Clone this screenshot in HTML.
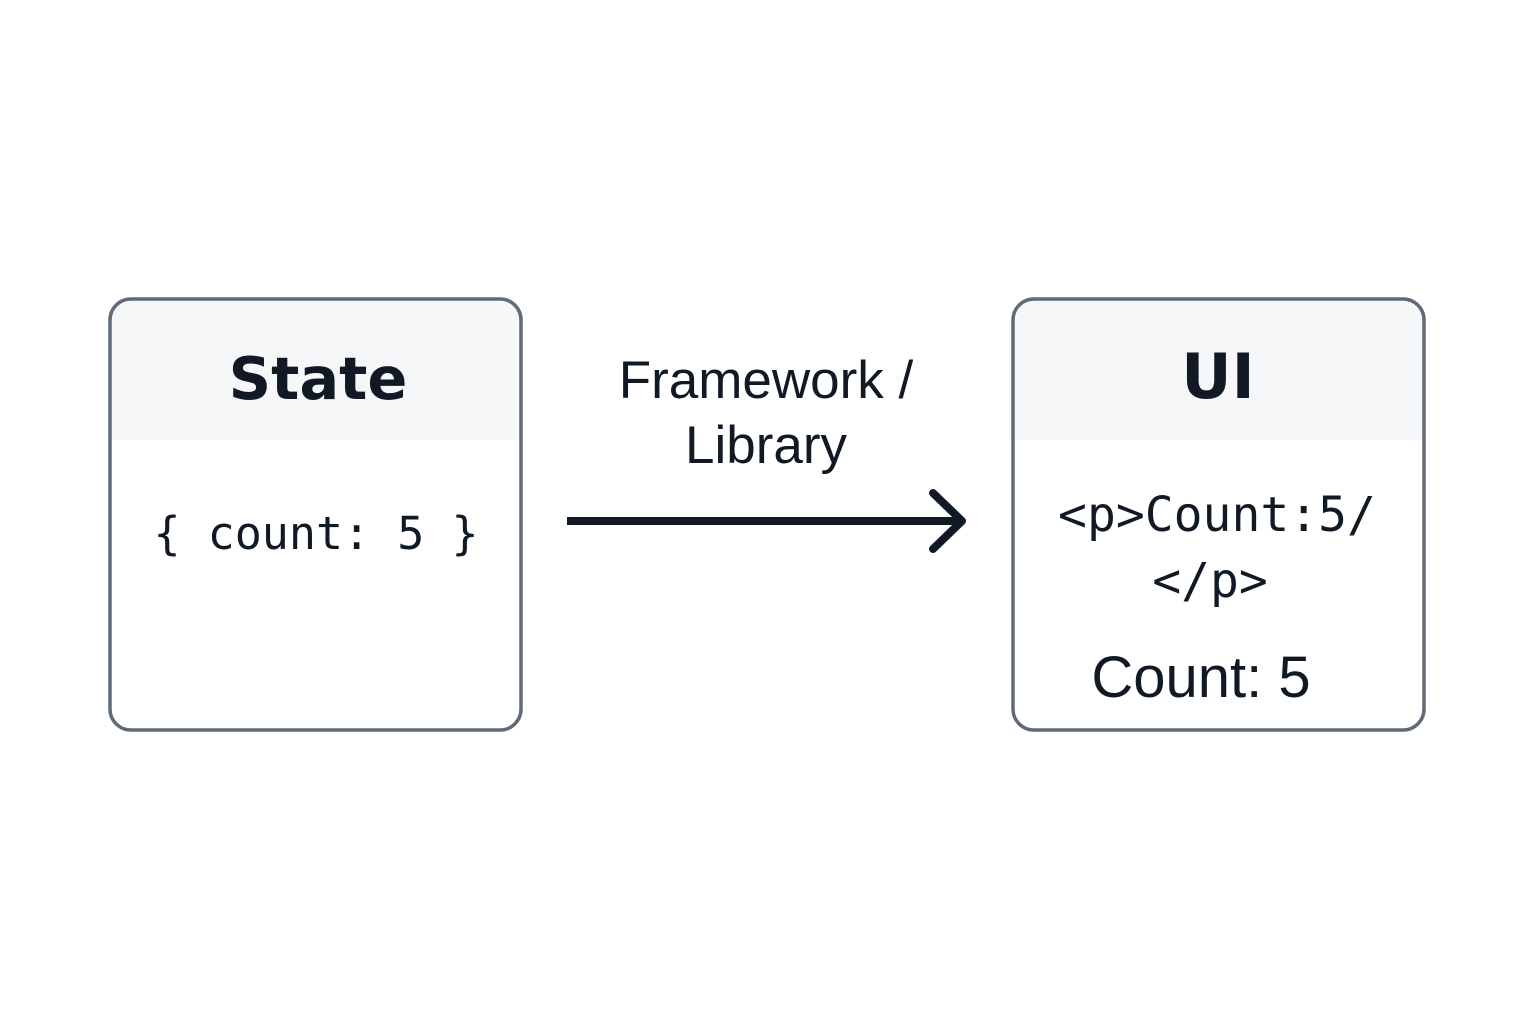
<!DOCTYPE html>
<html><head><meta charset="utf-8"><style>
html,body{margin:0;padding:0;background:#fff;width:1536px;height:1024px;overflow:hidden}
</style></head><body>
<svg width="1536" height="1024" viewBox="0 0 1536 1024" xmlns="http://www.w3.org/2000/svg">
<defs>
<clipPath id="c1"><rect x="110" y="299" width="411" height="431" rx="21"/></clipPath>
<clipPath id="c2"><rect x="1013" y="299" width="411" height="431" rx="21"/></clipPath>
</defs>
<rect x="110" y="299" width="411" height="431" rx="21" fill="#fff"/>
<rect x="110" y="299" width="411" height="141" fill="#f5f7f9" clip-path="url(#c1)"/>
<rect x="110" y="299" width="411" height="431" rx="21" fill="none" stroke="#5f6b78" stroke-width="3.5"/>
<rect x="1013" y="299" width="411" height="431" rx="21" fill="#fff"/>
<rect x="1013" y="299" width="411" height="141" fill="#f5f7f9" clip-path="url(#c2)"/>
<rect x="1013" y="299" width="411" height="431" rx="21" fill="none" stroke="#5f6b78" stroke-width="3.5"/>
<g fill="#111a24" text-anchor="middle">
<text x="318" y="399" font-family="DejaVu Sans, sans-serif" font-weight="bold" font-size="59">State</text>
<text x="316" y="549" font-family="DejaVu Sans Mono, monospace" font-size="45" xml:space="preserve">{ count: 5 }</text>
<text x="766" y="398" font-family="Liberation Sans, sans-serif" font-size="53">Framework /</text>
<text x="766" y="463" font-family="Liberation Sans, sans-serif" font-size="53">Library</text>
<text x="1218" y="398" font-family="DejaVu Sans, sans-serif" font-weight="bold" font-size="62">UI</text>
<text x="1217" y="531" font-family="DejaVu Sans Mono, monospace" font-size="48">&lt;p&gt;Count:5/</text>
<text x="1210" y="597" font-family="DejaVu Sans Mono, monospace" font-size="48">&lt;/p&gt;</text>
<text x="1201" y="697" font-family="Liberation Sans, sans-serif" font-size="58">Count: 5</text>
</g>
<line x1="567" y1="521" x2="960" y2="521" stroke="#111a24" stroke-width="8"/>
<polyline points="933,493 962,521 933,549" fill="none" stroke="#111a24" stroke-width="8" stroke-linecap="round" stroke-linejoin="round"/>
</svg>
</body></html>
